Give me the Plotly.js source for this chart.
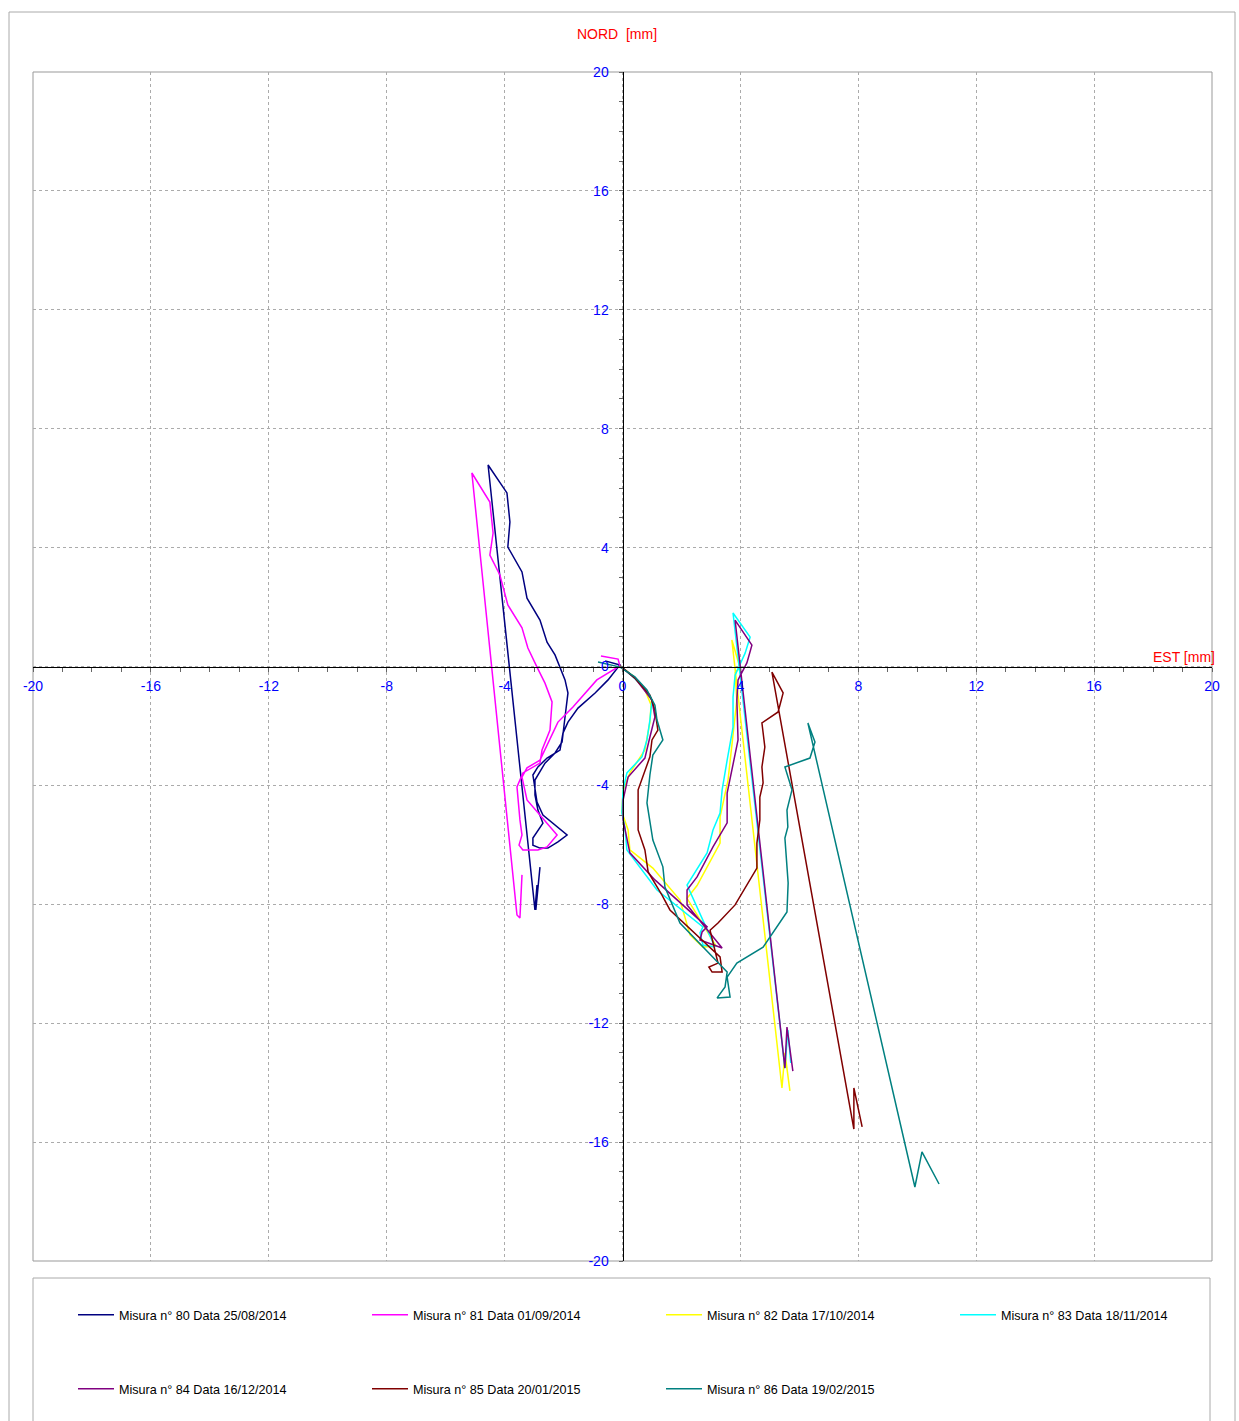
<!DOCTYPE html>
<html>
<head>
<meta charset="utf-8">
<script src="https://cdn.plot.ly/plotly-3.0.1.min.js"></script>
<style>html,body{margin:0;padding:0;background:#fff;}#chart{width:1239px;height:1421px;}</style>
</head>
<body>
<div id="chart"></div>
<script>
// Series (EST = x, NORD = y), mm
const m80x = [-0.59,-0.09,-0.49,-0.93,-1.51,-1.85,-2.02,-2.12,-2.56,-2.87,-3.04,-2.97,-2.90,-2.70,-1.88,-2.19,-2.53,-2.80,-3.04,-3.04,-2.70,-2.87,-2.97,-2.97,-2.63,-2.29,-2.05,-1.95,-1.85,-1.95,-2.12,-2.29,-2.56,-2.80,-3.24,-3.41,-3.89,-3.82,-3.92,-4.56,-2.97,-2.90,-2.94,-2.80];
const m80y = [0.19,0.05,-0.45,-0.89,-1.40,-1.87,-2.24,-2.81,-3.08,-3.38,-3.65,-4.15,-4.56,-5.00,-5.67,-5.90,-6.11,-6.11,-6.01,-5.77,-5.27,-4.83,-4.32,-3.82,-3.25,-2.91,-2.54,-1.70,-0.89,-0.45,-0.02,0.39,0.82,1.56,2.30,3.18,4.02,4.86,5.84,6.78,-8.19,-7.35,-8.19,-6.75];

const m81x = [-0.73,-0.15,-0.09,-0.87,-1.68,-2.19,-2.80,-3.24,-3.41,-3.24,-2.22,-2.56,-2.87,-3.38,-3.51,-3.41,-3.48,-3.58,-3.38,-2.80,-2.73,-2.46,-2.39,-2.63,-2.90,-3.21,-3.41,-3.89,-4.16,-4.50,-4.39,-4.50,-5.11,-3.58,-3.48,-3.41];
const m81y = [0.35,0.25,0.02,-0.45,-1.36,-1.87,-3.15,-3.41,-3.72,-4.49,-5.67,-6.07,-6.17,-6.17,-6.01,-5.67,-5.16,-4.05,-3.58,-3.25,-2.81,-2.14,-1.19,-0.56,-0.02,0.62,1.30,2.07,3.08,3.75,4.49,5.53,6.51,-8.36,-8.46,-7.01];

const m82x = [-0.08,0.36,0.76,0.97,0.93,0.76,0.25,0.02,-0.02,0.19,0.25,1.03,1.95,2.29,2.73,3.17,2.19,2.53,3.31,3.31,3.58,3.75,3.88,3.82,3.99,3.71,5.41,5.51,5.68];
const m82y = [0.02,-0.32,-0.79,-1.29,-1.87,-2.81,-3.58,-4.16,-4.90,-5.50,-6.17,-6.78,-7.86,-9.03,-9.44,-9.40,-7.80,-7.37,-5.94,-5.06,-3.82,-2.24,-1.13,-0.19,-0.05,0.89,-14.18,-13.00,-14.28];

const m83x = [-0.08,0.36,0.70,1.00,0.93,0.83,0.66,0.15,0.02,-0.02,0.08,0.15,1.17,2.73,2.63,2.73,3.14,2.19,2.87,3.07,3.31,3.38,3.55,3.75,3.75,3.82,4.16,4.33,3.75,5.51,5.61,5.71];
const m83y = [0.02,-0.35,-0.69,-1.13,-1.80,-2.47,-3.04,-3.58,-4.16,-4.93,-5.40,-6.17,-7.52,-8.76,-8.96,-9.37,-9.44,-7.35,-6.27,-5.50,-4.93,-4.15,-3.15,-2.04,-1.03,-0.29,0.45,0.99,1.80,-13.51,-12.23,-13.34];

const m84x = [-0.08,0.42,1.00,1.10,0.93,0.76,0.19,0.02,0.02,0.15,0.25,1.10,2.87,2.70,2.63,3.38,2.19,2.19,2.53,3.07,3.55,3.55,3.75,3.92,3.88,3.92,4.22,4.39,3.82,5.51,5.58,5.78];
const m84y = [0.02,-0.39,-1.13,-1.70,-2.37,-3.08,-3.72,-4.49,-5.16,-5.84,-6.27,-7.18,-8.76,-8.93,-9.20,-9.47,-8.02,-7.52,-7.08,-6.07,-5.26,-4.26,-3.25,-2.47,-1.13,-0.45,0.12,0.72,1.56,-13.51,-12.13,-13.61];

const m85x = [-0.08,0.42,0.93,1.10,1.20,1.00,0.93,0.53,0.53,0.76,0.87,1.34,1.61,2.97,3.31,3.38,3.04,2.93,3.24,2.97,3.24,3.82,4.56,4.56,4.66,4.66,4.77,4.73,4.83,4.73,5.28,5.45,5.07,7.85,7.85,8.13];
const m85y = [0.02,-0.39,-0.96,-1.46,-2.14,-2.47,-3.04,-4.15,-5.50,-6.17,-6.91,-7.69,-8.19,-9.44,-9.77,-10.28,-10.28,-10.11,-9.98,-8.87,-8.63,-8.02,-6.78,-5.94,-5.16,-4.39,-3.92,-3.38,-2.71,-1.90,-1.53,-0.89,-0.19,-15.56,-14.18,-15.49];

const m86x = [-0.83,-0.08,0.42,0.83,1.10,1.17,1.37,1.03,0.93,0.83,1.03,1.37,1.44,1.95,3.55,3.48,3.21,3.65,3.55,3.88,4.77,5.58,5.62,5.51,5.61,5.58,5.75,5.51,6.36,6.53,6.29,9.92,10.16,10.74];
const m86y = [0.15,-0.02,-0.35,-0.79,-1.30,-1.80,-2.47,-2.98,-3.65,-4.59,-5.84,-6.74,-7.42,-8.63,-10.28,-10.78,-11.15,-11.12,-10.45,-9.98,-9.44,-8.26,-7.28,-5.77,-5.40,-4.83,-4.15,-3.38,-3.08,-2.54,-1.90,-17.51,-16.33,-17.41];

const seriesNames = [
  'Misura n° 80 Data 25/08/2014',
  'Misura n° 81 Data 01/09/2014',
  'Misura n° 82 Data 17/10/2014',
  'Misura n° 83 Data 18/11/2014',
  'Misura n° 84 Data 16/12/2014',
  'Misura n° 85 Data 20/01/2015',
  'Misura n° 86 Data 19/02/2015'
];
const seriesColors = ['#000080','#FF00FF','#FFFF00','#00FFFF','#800080','#800000','#008080'];
const xs = [m80x,m81x,m82x,m83x,m84x,m85x,m86x];
const ys = [m80y,m81y,m82y,m83y,m84y,m85y,m86y];

const tickVals = [-20,-16,-12,-8,-4,0,4,8,12,16,20];
const tickText = ['-20','-16','-12','-8','-4','0','4','8','12','16','20'];

const legendIds = xs.map((_,i)=> i===0 ? 'legend' : 'legend'+(i+1));

const traces = xs.map((x,i)=>({
  type:'scatter', mode:'lines', x:x, y:ys[i], name:seriesNames[i],
  line:{color:seriesColors[i], width:1.5},
  legend: legendIds[i],
  hoverinfo:'skip'
}));

const W = 1239, H = 1421;
const L = 33, R = 27, T = 72, B = 160;
const pw = W-L-R, ph = H-T-B;
const px = v => (v-L)/pw;
const py = v => (H-B-v)/ph;

function axisCfg(standoff){
  return {
    range:[-20,20], tickmode:'array', tickvals:tickVals, ticktext:tickText,
    anchor:'free', position:0.5,
    showline:true, linecolor:'#000', linewidth:1, zeroline:false,
    showgrid:true, gridcolor:'#ababab', griddash:'dot', gridwidth:1,
    ticks:'outside', ticklen:4, tickcolor:'#666', tickwidth:1,
    ticklabelstandoff:standoff,
    tickfont:{color:'#0000ff', size:14, family:'"Liberation Sans", Arial, sans-serif'},
    minor:{dtick:1, tick0:0, ticks:'outside', ticklen:4, tickcolor:'#666', showgrid:false},
    fixedrange:true
  };
}

const legendBase = {
  orientation:'h', xanchor:'left', yanchor:'top', itemwidth:36,
  font:{size:12.6, color:'#000', family:'"Liberation Sans", Arial, sans-serif'},
  bgcolor:'rgba(0,0,0,0)', borderwidth:0
};
// legend grid: 4 columns, 2 rows
const colLeft = [73, 367, 661, 955];
const rowTop = [1300, 1374];

const layout = {
  width:W, height:H,
  margin:{l:L, r:R, t:T, b:B, autoexpand:false},
  paper_bgcolor:'#fff', plot_bgcolor:'#fff',
  font:{family:'"Liberation Sans", Arial, sans-serif'},
  showlegend:true,
  title:{text:'NORD\u00a0\u00a0[mm]', font:{color:'#ff0000', size:14},
    xref:'container', yref:'container', x:617/W, y:1-34/H, xanchor:'center', yanchor:'middle'},
  xaxis:axisCfg(3),
  yaxis:axisCfg(7),
  annotations:[
    {text:'EST [mm]', xref:'paper', yref:'paper', x:px(1217), y:py(657), xanchor:'right', yanchor:'middle',
     showarrow:false, font:{color:'#ff0000', size:14}}
  ],
  shapes:[
    {type:'rect', xref:'paper', yref:'paper', x0:0, x1:1, y0:0, y1:1, line:{color:'#999', width:1}, layer:'below'},
    {type:'rect', xref:'paper', yref:'paper', x0:px(9), x1:px(1235), y0:py(1440), y1:py(12), line:{color:'#aaa', width:1}},
    {type:'rect', xref:'paper', yref:'paper', x0:px(33), x1:px(1210), y0:py(1440), y1:py(1278), line:{color:'#aaa', width:1}}
  ]
};
legendIds.forEach((id,i)=>{
  layout[id] = Object.assign({}, legendBase, {x:px(colLeft[i%4]), y:py(rowTop[Math.floor(i/4)])});
});

Plotly.newPlot('chart', traces, layout, {staticPlot:true, displayModeBar:false});
</script>
</body>
</html>
